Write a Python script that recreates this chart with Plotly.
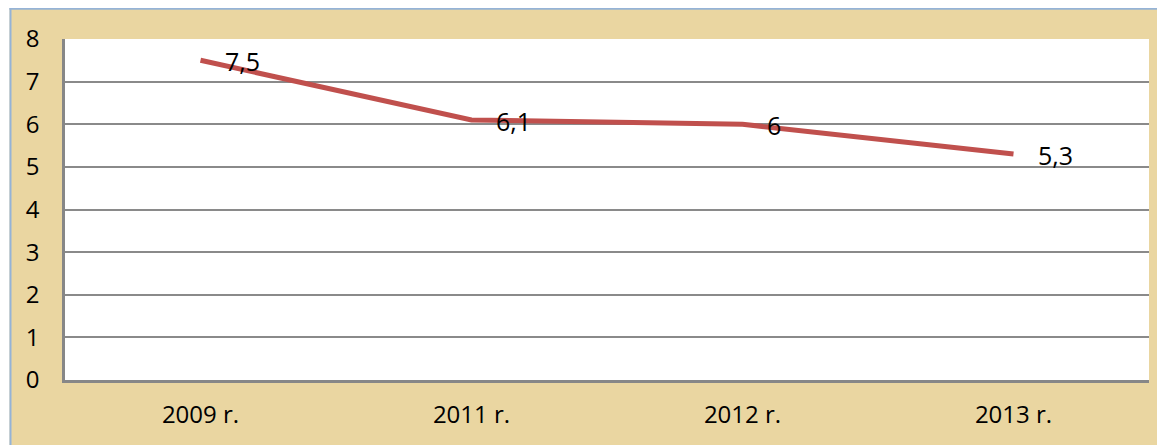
import plotly.graph_objects as go

categories = ["2009 r.", "2011 r.", "2012 r.", "2013 r."]
values = [7.5, 6.1, 6.0, 5.3]
value_labels = ["7,5", "6,1", "6", "5,3"]
y_ticks = [0, 1, 2, 3, 4, 5, 6, 7, 8]

W, H = 1165, 445
ml, mr, mt, mb = 57, 24, 31, 73
pw, ph = W - ml - mr, H - mt - mb

def px_x(p):
    return (p - ml) / pw

def px_y(p):
    return (H - mb - p) / ph

font_family = "Open Sans, Lato, sans-serif"
tan = "#EAD6A1"

fig = go.Figure()
fig.add_trace(go.Scatter(
    x=list(range(len(categories))), y=values, mode="lines",
    line=dict(color="#C0504D", width=5), hoverinfo="skip", showlegend=False))

annotations = []
for i, (v, t) in enumerate(zip(values, value_labels)):
    annotations.append(dict(x=i, y=v, xref="x", yref="y", text=t, showarrow=False,
                            xanchor="left", yanchor="middle", xshift=22, yshift=-1,
                            font=dict(family=font_family, size=25, color="#000")))

shapes = [
    dict(type="rect", xref="paper", yref="paper", x0=px_x(-5), x1=px_x(1.5),
         y0=px_y(H + 5), y1=px_y(-5), fillcolor="white", line_width=0, layer="below"),
    dict(type="line", xref="paper", yref="paper", x0=px_x(1.5), x1=px_x(W + 5),
         y0=px_y(0.8), y1=px_y(0.8), line=dict(color="#95B3D7", width=2), layer="below"),
    dict(type="line", xref="paper", yref="paper", x0=px_x(2.5), x1=px_x(2.5),
         y0=px_y(0), y1=px_y(H + 5), line=dict(color="#95B3D7", width=2), layer="below"),
]

fig.update_layout(
    width=W, height=H,
    margin=dict(l=ml, r=mr, t=mt, b=mb, pad=0),
    paper_bgcolor=tan, plot_bgcolor="white",
    font=dict(family=font_family, size=24, color="#000"),
    xaxis=dict(range=[-0.5, len(categories) - 0.5], tickmode="array",
               tickvals=list(range(len(categories))), ticktext=categories,
               showgrid=False, zeroline=False, showline=True, linecolor="#878787",
               linewidth=2.5, ticks="outside", ticklen=11, tickcolor="rgba(0,0,0,0)",
               tickfont=dict(family=font_family, size=24, color="#000")),
    yaxis=dict(range=[0, 8], tickmode="array", tickvals=y_ticks,
               ticktext=[str(t) for t in y_ticks],
               showgrid=True, gridcolor="#8A8A8A", gridwidth=1.5, zeroline=False,
               showline=True, linecolor="#878787", linewidth=2.5,
               ticks="outside", ticklen=18, tickcolor="rgba(0,0,0,0)",
               tickfont=dict(family=font_family, size=24, color="#000")),
    annotations=annotations, shapes=shapes,
)

fig.write_html("out.html")
